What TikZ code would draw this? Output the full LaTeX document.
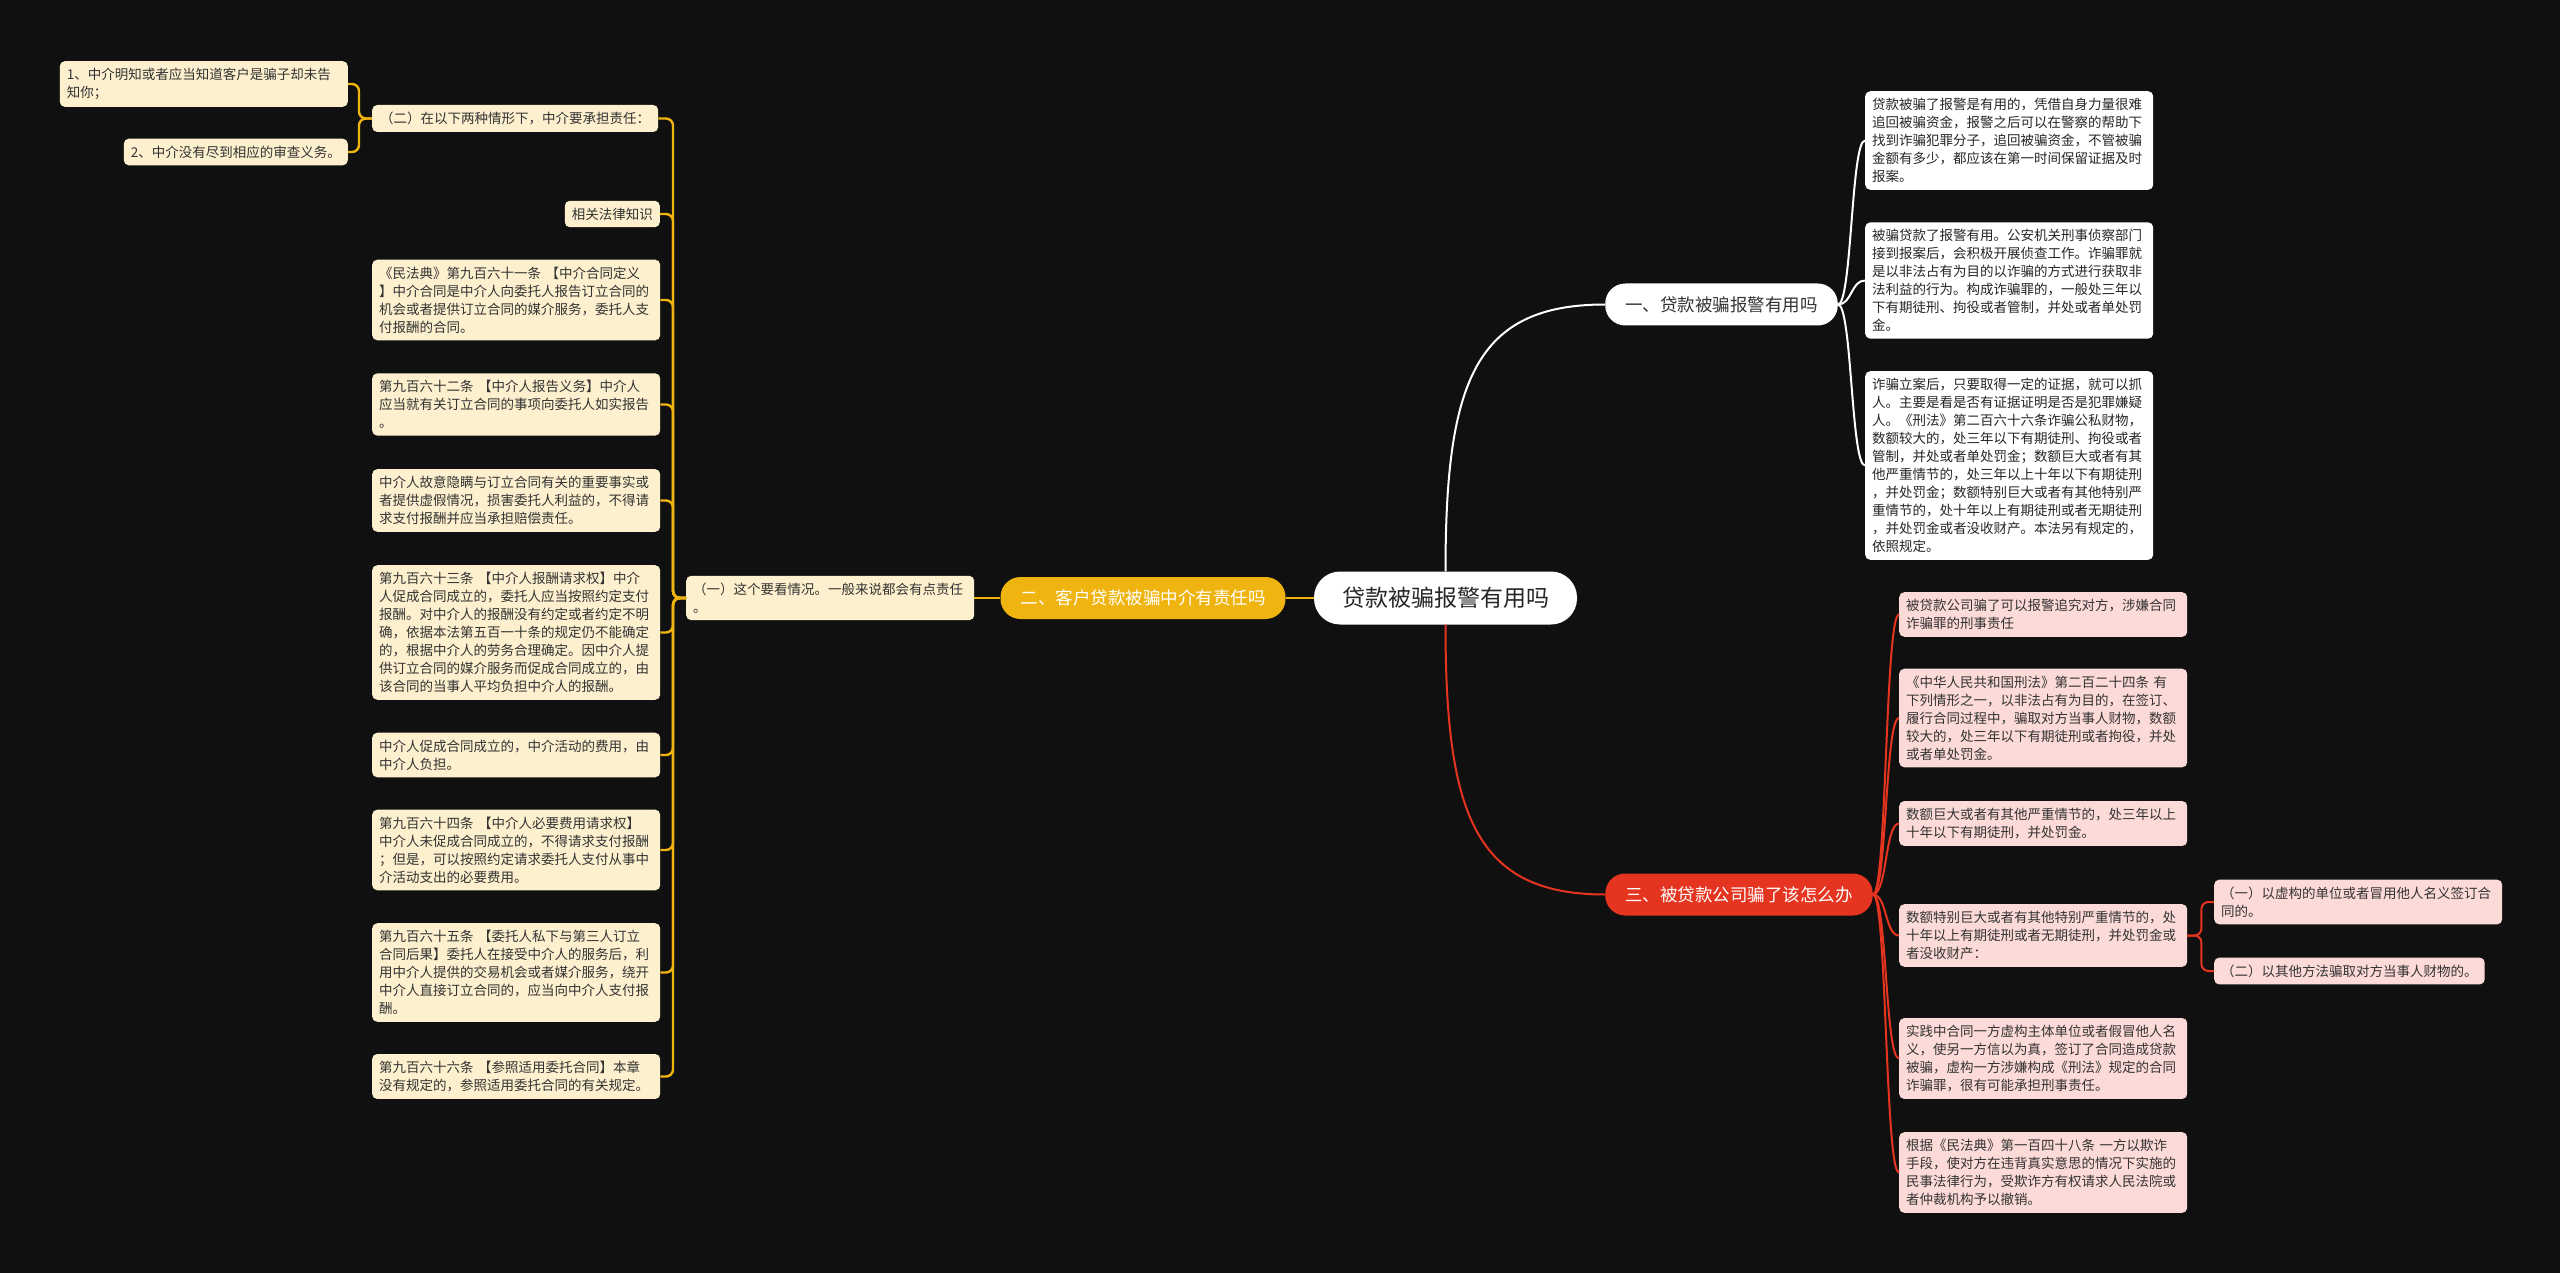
\documentclass[tikz,border=0pt]{standalone}
\usepackage{fontspec}
\setmainfont{Noto Sans CJK SC}
\definecolor{bgc}{HTML}{101010}
\definecolor{gold}{HTML}{EFB40F}
\definecolor{cream}{HTML}{FDF0CE}
\definecolor{redb}{HTML}{E5341F}
\definecolor{pink}{HTML}{FCDAD7}
\definecolor{ink}{HTML}{333333}
\begin{document}
\begin{tikzpicture}[x=1pt,y=-1pt,
  box/.style={rounded corners=5pt,inner xsep=7pt,inner ysep=7pt,text=ink,
    font=\fontsize{13.5}{18}\selectfont},
  wide/.style={text width=274pt,align=left},
  ybox/.style={box,fill=cream},
  wbox/.style={box,fill=white,text=black!85},
  pbox/.style={box,fill=pink},
  pill/.style={rounded corners=20pt,minimum height=42pt,inner xsep=20pt,
    font=\fontsize{17.5}{20}\selectfont},
  ylink/.style={gold,line width=2.4pt,rounded corners=7pt},
  wlink/.style={white,line width=2pt},
  rlink/.style={redb,line width=2pt,rounded corners=7pt}]
\useasboundingbox (0,0) rectangle (2560,1273);
\fill[bgc] (0,0) rectangle (2560,1273);

\node[pill,fill=white,text=black!85,rounded corners=26pt,minimum height=53pt,
  inner xsep=28pt,font=\fontsize{23}{26}\selectfont] (ctr) at (1445.5,598) {贷款被骗报警有用吗};
\node[pill,fill=white,text=ink] (b1) at (1721.5,304.5) {一、贷款被骗报警有用吗};
\node[pill,fill=gold,text=white] (b2) at (1143,598) {二、客户贷款被骗中介有责任吗};
\node[pill,fill=redb,text=white] (b3) at (1739,894.5) {三、被贷款公司骗了该怎么办};

\node[ybox,wide,anchor=west] (yi) at (686,598) {（一）这个要看情况。一般来说都会有点责任\\。};

\node[ybox,anchor=west,minimum width=286pt] (L0) at (372,118.5) {（二）在以下两种情形下，中介要承担责任：};
\node[ybox,anchor=east] (L1) at (660,214) {相关法律知识};
\node[ybox,wide,anchor=west] (L2) at (372,300) {《民法典》第九百六十一条 【中介合同定义\\】中介合同是中介人向委托人报告订立合同的\\机会或者提供订立合同的媒介服务，委托人支\\付报酬的合同。};
\node[ybox,wide,anchor=west] (L3) at (372,404.5) {第九百六十二条 【中介人报告义务】中介人\\应当就有关订立合同的事项向委托人如实报告\\。};
\node[ybox,wide,anchor=west] (L4) at (372,500.5) {中介人故意隐瞒与订立合同有关的重要事实或\\者提供虚假情况，损害委托人利益的，不得请\\求支付报酬并应当承担赔偿责任。};
\node[ybox,wide,anchor=west] (L5) at (372,632.5) {第九百六十三条 【中介人报酬请求权】中介\\人促成合同成立的，委托人应当按照约定支付\\报酬。对中介人的报酬没有约定或者约定不明\\确，依据本法第五百一十条的规定仍不能确定\\的，根据中介人的劳务合理确定。因中介人提\\供订立合同的媒介服务而促成合同成立的，由\\该合同的当事人平均负担中介人的报酬。};
\node[ybox,wide,anchor=west] (L6) at (372,755) {中介人促成合同成立的，中介活动的费用，由\\中介人负担。};
\node[ybox,wide,anchor=west] (L7) at (372,850) {第九百六十四条 【中介人必要费用请求权】\\中介人未促成合同成立的，不得请求支付报酬\\；但是，可以按照约定请求委托人支付从事中\\介活动支出的必要费用。};
\node[ybox,wide,anchor=west] (L8) at (372,972.5) {第九百六十五条 【委托人私下与第三人订立\\合同后果】委托人在接受中介人的服务后，利\\用中介人提供的交易机会或者媒介服务，绕开\\中介人直接订立合同的，应当向中介人支付报\\酬。};
\node[ybox,wide,anchor=west] (L9) at (372,1076.5) {第九百六十六条 【参照适用委托合同】本章\\没有规定的，参照适用委托合同的有关规定。};

\node[ybox,wide,anchor=east] (A1) at (348,84) {1、中介明知或者应当知道客户是骗子却未告\\知你；};
\node[ybox,anchor=east] (A2) at (348,152) {2、中介没有尽到相应的审查义务。};

\node[wbox,wide,anchor=west] (R1) at (1865,140.5) {贷款被骗了报警是有用的，凭借自身力量很难\\追回被骗资金，报警之后可以在警察的帮助下\\找到诈骗犯罪分子，追回被骗资金，不管被骗\\金额有多少，都应该在第一时间保留证据及时\\报案。};
\node[wbox,wide,anchor=west] (R2) at (1865,280.5) {被骗贷款了报警有用。公安机关刑事侦察部门\\接到报案后，会积极开展侦查工作。诈骗罪就\\是以非法占有为目的以诈骗的方式进行获取非\\法利益的行为。构成诈骗罪的，一般处三年以\\下有期徒刑、拘役或者管制，并处或者单处罚\\金。};
\node[wbox,wide,anchor=west] (R3) at (1865,465.5) {诈骗立案后，只要取得一定的证据，就可以抓\\人。主要是看是否有证据证明是否是犯罪嫌疑\\人。《刑法》第二百六十六条诈骗公私财物，\\数额较大的，处三年以下有期徒刑、拘役或者\\管制，并处或者单处罚金；数额巨大或者有其\\他严重情节的，处三年以上十年以下有期徒刑\\，并处罚金；数额特别巨大或者有其他特别严\\重情节的，处十年以上有期徒刑或者无期徒刑\\，并处罚金或者没收财产。本法另有规定的，\\依照规定。};

\node[pbox,wide,anchor=west] (P1) at (1899,614.5) {被贷款公司骗了可以报警追究对方，涉嫌合同\\诈骗罪的刑事责任};
\node[pbox,wide,anchor=west] (P2) at (1899,718) {《中华人民共和国刑法》第二百二十四条 有\\下列情形之一，以非法占有为目的，在签订、\\履行合同过程中，骗取对方当事人财物，数额\\较大的，处三年以下有期徒刑或者拘役，并处\\或者单处罚金。};
\node[pbox,wide,anchor=west] (P3) at (1899,823.5) {数额巨大或者有其他严重情节的，处三年以上\\十年以下有期徒刑，并处罚金。};
\node[pbox,wide,anchor=west] (P4) at (1899,935.5) {数额特别巨大或者有其他特别严重情节的，处\\十年以上有期徒刑或者无期徒刑，并处罚金或\\者没收财产：};
\node[pbox,wide,anchor=west] (P5) at (1899,1058.5) {实践中合同一方虚构主体单位或者假冒他人名\\义，使另一方信以为真，签订了合同造成贷款\\被骗，虚构一方涉嫌构成《刑法》规定的合同\\诈骗罪，很有可能承担刑事责任。};
\node[pbox,wide,anchor=west] (P6) at (1899,1172.5) {根据《民法典》第一百四十八条 一方以欺诈\\手段，使对方在违背真实意思的情况下实施的\\民事法律行为，受欺诈方有权请求人民法院或\\者仲裁机构予以撤销。};

\node[pbox,wide,anchor=west] (Q1) at (2214,902) {（一）以虚构的单位或者冒用他人名义签订合\\同的。};
\node[pbox,anchor=west] (Q2) at (2214,971) {（二）以其他方法骗取对方当事人财物的。};

\draw[wlink] (ctr.north) .. controls +(0,-190) and +(-130,0) .. (b1.west);
\draw[rlink] (ctr.south) .. controls +(0,190) and +(-130,0) .. (b3.west);
\draw[ylink] (ctr.west) -- (b2.east);
\draw[ylink] (b2.west) -- (yi.east);
\foreach \k in {L0,L1,L2,L3,L4,L5,L6,L7,L8,L9}
  \draw[ylink] (yi.west) -- ++(-13,0) |- (\k.east);
\foreach \k in {A1,A2}
  \draw[ylink] (L0.west) -- ++(-13,0) |- (\k.east);
\foreach \k in {R1,R2,R3}
  \draw[wlink] (b1.east) .. controls +(14,0) and +(-14,0) .. (\k.west);
\foreach \k in {P1,P2,P3,P4,P5,P6}
  \draw[rlink] (b3.east) .. controls +(14,0) and +(-14,0) .. (\k.west);
\foreach \k in {Q1,Q2}
  \draw[rlink] (P4.east) -- ++(14,0) |- (\k.west);
\end{tikzpicture}
\end{document}
